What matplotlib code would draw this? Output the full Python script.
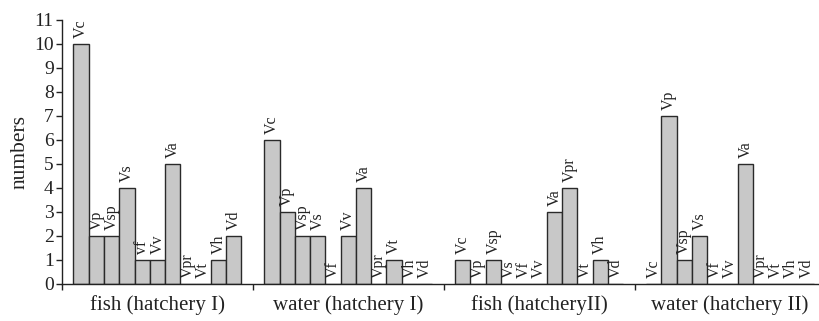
import matplotlib
matplotlib.use("Agg")
import matplotlib.pyplot as plt
import numpy as np

plt.rcParams['font.family'] = ['Liberation Serif', 'DejaVu Serif']

categories = ["Vc", "Vp", "Vsp", "Vs", "Vf", "Vv", "Va", "Vpr", "Vt", "Vh", "Vd"]
groups = ["fish (hatchery I)", "water (hatchery I)", "fish (hatcheryII)", "water (hatchery II)"]
fish_h1 = [10, 2, 2, 4, 1, 1, 5, 0, 0, 1, 2]
water_h1 = [6, 3, 2, 2, 0, 2, 4, 0, 1, 0, 0]
fish_h2 = [1, 0, 1, 0, 0, 0, 3, 4, 0, 1, 0]
water_h2 = [0, 7, 1, 2, 0, 0, 5, 0, 0, 0, 0]
series = [fish_h1, water_h1, fish_h2, water_h2]
labels_per_group = [["vf" if c == "Vf" else c for c in categories]] + [categories] * 3

fig = plt.figure(figsize=(8.19, 3.21), dpi=100)
ax = fig.add_axes([62 / 819, 37 / 321, 757 / 819, 264 / 321])

group_w = 12.5
pad = 0.75
for g, vals in enumerate(series):
    xs = g * group_w + pad + np.arange(len(vals)) + 0.5
    ax.bar(xs, vals, width=1.0, color="#c8c8c8", edgecolor="#2a2a2a", linewidth=1.0, zorder=2)
    for x, v, lab in zip(xs, vals, labels_per_group[g]):
        ax.annotate(lab, (x, v), xytext=(0, 4.5), textcoords="offset points",
                    rotation=90, ha="center", va="bottom", fontsize=11.5,
                    color="#222222", annotation_clip=False)

ax.set_xlim(0, 757 / 15.27)
ax.set_ylim(0, 11)
ax.set_yticks(range(0, 12))
ax.tick_params(axis="y", direction="out", length=4, width=1, labelsize=14, pad=2, colors="#222222")
ax.set_xticks([g * group_w for g in range(1, 4)] + [0])
ax.set_xticklabels([])
ax.tick_params(axis="x", which="major", direction="out", length=4, width=1, colors="#222222")
ax.set_xticks([g * group_w + group_w / 2 for g in range(4)], minor=True)
ax.set_xticklabels(groups, minor=True)
ax.tick_params(axis="x", which="minor", length=0, labelsize=15, pad=8, labelcolor="#222222")

for s in ["top", "right"]:
    ax.spines[s].set_visible(False)
for s in ["left", "bottom"]:
    ax.spines[s].set_color("#222222")
    ax.spines[s].set_linewidth(1.0)
ax.set_ylabel("numbers", fontsize=15.5, color="#222222", labelpad=3)

fig.savefig("out.png", dpi=100)
